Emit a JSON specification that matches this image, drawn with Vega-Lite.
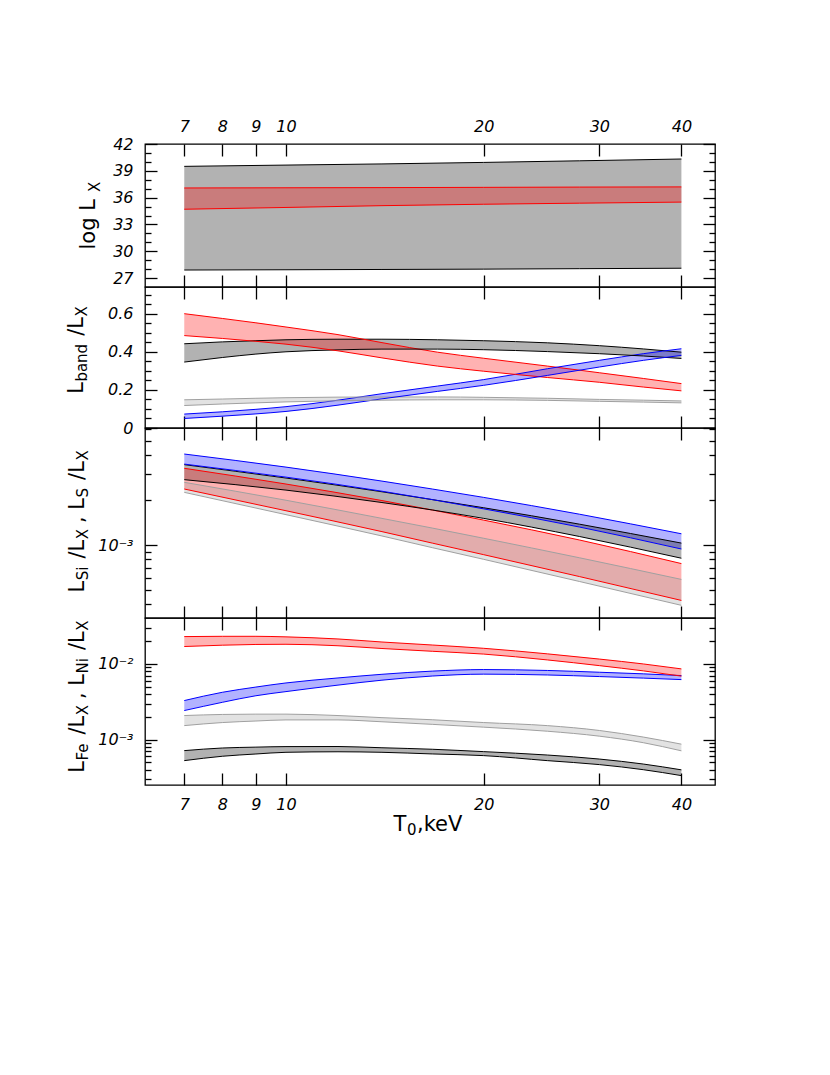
{
"$schema": "https://vega.github.io/schema/vega-lite/v6.json",
"background": "white",
"padding": 0,
"bounds": "flush",
"spacing": 0,
"config": {
 "view": {"stroke": "#000000", "strokeWidth": 1.3},
 "axis": {"domain": false, "grid": false, "tickColor": "#000000", "tickWidth": 1.3, "labelFont": "DejaVu Sans", "labelFontStyle": "italic", "labelFontSize": 16, "labelColor": "#000000", "labelFlush": false, "labelOverlap": false, "labelBound": false, "titleFont": "DejaVu Sans", "titleFontWeight": "normal", "titleColor": "#000000"},
 "axisY": {"titleAlign": "left", "titleBaseline": "alphabetic", "titleAngle": -90},
 "axisX": {"titleAlign": "left", "titleBaseline": "alphabetic", "titleAngle": 0}
},
"datasets": {"d": [
{"p":1,"s":"black","T":7,"lo":27.9,"hi":39.5},
{"p":1,"s":"black","T":10,"lo":27.93,"hi":39.64},
{"p":1,"s":"black","T":14,"lo":27.96,"hi":39.77},
{"p":1,"s":"black","T":20,"lo":28.0,"hi":39.94},
{"p":1,"s":"black","T":28,"lo":28.05,"hi":40.12},
{"p":1,"s":"black","T":40,"lo":28.1,"hi":40.32},
{"p":1,"s":"red","T":7,"lo":34.7,"hi":37.08},
{"p":1,"s":"red","T":10,"lo":34.9,"hi":37.1},
{"p":1,"s":"red","T":14,"lo":35.1,"hi":37.12},
{"p":1,"s":"red","T":20,"lo":35.26,"hi":37.15},
{"p":1,"s":"red","T":28,"lo":35.38,"hi":37.18},
{"p":1,"s":"red","T":40,"lo":35.5,"hi":37.2},
{"p":2,"s":"black","T":7,"lo":0.346,"hi":0.442},
{"p":2,"s":"black","T":8,"lo":0.37,"hi":0.452},
{"p":2,"s":"black","T":9,"lo":0.388,"hi":0.458},
{"p":2,"s":"black","T":10,"lo":0.4,"hi":0.463},
{"p":2,"s":"black","T":12,"lo":0.41,"hi":0.466},
{"p":2,"s":"black","T":14,"lo":0.414,"hi":0.466},
{"p":2,"s":"black","T":17,"lo":0.414,"hi":0.463},
{"p":2,"s":"black","T":20,"lo":0.411,"hi":0.458},
{"p":2,"s":"black","T":25,"lo":0.401,"hi":0.447},
{"p":2,"s":"black","T":30,"lo":0.39,"hi":0.432},
{"p":2,"s":"black","T":35,"lo":0.378,"hi":0.415},
{"p":2,"s":"black","T":40,"lo":0.365,"hi":0.398},
{"p":2,"s":"red","T":7,"lo":0.485,"hi":0.6},
{"p":2,"s":"red","T":8,"lo":0.47,"hi":0.575},
{"p":2,"s":"red","T":9,"lo":0.455,"hi":0.552},
{"p":2,"s":"red","T":10,"lo":0.44,"hi":0.53},
{"p":2,"s":"red","T":12,"lo":0.405,"hi":0.49},
{"p":2,"s":"red","T":14,"lo":0.368,"hi":0.448},
{"p":2,"s":"red","T":17,"lo":0.325,"hi":0.398},
{"p":2,"s":"red","T":20,"lo":0.298,"hi":0.366},
{"p":2,"s":"red","T":25,"lo":0.265,"hi":0.325},
{"p":2,"s":"red","T":30,"lo":0.24,"hi":0.29},
{"p":2,"s":"red","T":35,"lo":0.215,"hi":0.26},
{"p":2,"s":"red","T":40,"lo":0.195,"hi":0.233},
{"p":2,"s":"blue","T":7,"lo":0.05,"hi":0.073},
{"p":2,"s":"blue","T":8,"lo":0.062,"hi":0.085},
{"p":2,"s":"blue","T":9,"lo":0.074,"hi":0.098},
{"p":2,"s":"blue","T":10,"lo":0.087,"hi":0.112},
{"p":2,"s":"blue","T":12,"lo":0.12,"hi":0.146},
{"p":2,"s":"blue","T":14,"lo":0.153,"hi":0.18},
{"p":2,"s":"blue","T":17,"lo":0.192,"hi":0.22},
{"p":2,"s":"blue","T":20,"lo":0.224,"hi":0.254},
{"p":2,"s":"blue","T":25,"lo":0.276,"hi":0.311},
{"p":2,"s":"blue","T":30,"lo":0.32,"hi":0.355},
{"p":2,"s":"blue","T":35,"lo":0.355,"hi":0.39},
{"p":2,"s":"blue","T":40,"lo":0.381,"hi":0.416},
{"p":2,"s":"gray","T":7,"lo":0.118,"hi":0.148},
{"p":2,"s":"gray","T":8,"lo":0.126,"hi":0.152},
{"p":2,"s":"gray","T":9,"lo":0.132,"hi":0.156},
{"p":2,"s":"gray","T":10,"lo":0.137,"hi":0.159},
{"p":2,"s":"gray","T":12,"lo":0.143,"hi":0.162},
{"p":2,"s":"gray","T":14,"lo":0.146,"hi":0.163},
{"p":2,"s":"gray","T":17,"lo":0.148,"hi":0.163},
{"p":2,"s":"gray","T":20,"lo":0.148,"hi":0.161},
{"p":2,"s":"gray","T":25,"lo":0.145,"hi":0.156},
{"p":2,"s":"gray","T":30,"lo":0.14,"hi":0.15},
{"p":2,"s":"gray","T":35,"lo":0.136,"hi":0.146},
{"p":2,"s":"gray","T":40,"lo":0.132,"hi":0.142},
{"p":3,"s":"blue","T":7,"lo":0.0035,"hi":0.00409},
{"p":3,"s":"blue","T":10,"lo":0.00286,"hi":0.00334},
{"p":3,"s":"blue","T":14,"lo":0.0023,"hi":0.00269},
{"p":3,"s":"blue","T":16.7,"lo":0.00202,"hi":0.00238},
{"p":3,"s":"blue","T":20,"lo":0.00175,"hi":0.00209},
{"p":3,"s":"blue","T":28,"lo":0.00132,"hi":0.00161},
{"p":3,"s":"blue","T":40,"lo":0.00094,"hi":0.00119},
{"p":3,"s":"black","T":7,"lo":0.00275,"hi":0.00347},
{"p":3,"s":"black","T":10,"lo":0.00234,"hi":0.00282},
{"p":3,"s":"black","T":14,"lo":0.00193,"hi":0.00228},
{"p":3,"s":"black","T":16.7,"lo":0.00172,"hi":0.00202},
{"p":3,"s":"black","T":20,"lo":0.00151,"hi":0.00178},
{"p":3,"s":"black","T":28,"lo":0.00114,"hi":0.00138},
{"p":3,"s":"black","T":40,"lo":0.000815,"hi":0.00103},
{"p":3,"s":"red","T":7,"lo":0.00238,"hi":0.00328},
{"p":3,"s":"red","T":10,"lo":0.0017,"hi":0.00257},
{"p":3,"s":"red","T":14,"lo":0.00123,"hi":0.00199},
{"p":3,"s":"red","T":16.7,"lo":0.00103,"hi":0.00172},
{"p":3,"s":"red","T":20,"lo":0.000861,"hi":0.00147},
{"p":3,"s":"red","T":28,"lo":0.000613,"hi":0.00108},
{"p":3,"s":"red","T":40,"lo":0.000424,"hi":0.00075},
{"p":3,"s":"gray","T":7,"lo":0.00226,"hi":0.00264},
{"p":3,"s":"gray","T":10,"lo":0.0016,"hi":0.002},
{"p":3,"s":"gray","T":14,"lo":0.00115,"hi":0.00151},
{"p":3,"s":"gray","T":16.7,"lo":0.00096,"hi":0.0013},
{"p":3,"s":"gray","T":20,"lo":0.000801,"hi":0.00111},
{"p":3,"s":"gray","T":28,"lo":0.000568,"hi":0.00082},
{"p":3,"s":"gray","T":40,"lo":0.000393,"hi":0.000587},
{"p":4,"s":"red","T":7,"lo":0.017,"hi":0.023},
{"p":4,"s":"red","T":8,"lo":0.0177,"hi":0.0232},
{"p":4,"s":"red","T":9,"lo":0.0181,"hi":0.0232},
{"p":4,"s":"red","T":10,"lo":0.0182,"hi":0.0228},
{"p":4,"s":"red","T":12,"lo":0.0174,"hi":0.0214},
{"p":4,"s":"red","T":14,"lo":0.016,"hi":0.0195},
{"p":4,"s":"red","T":16.7,"lo":0.0147,"hi":0.0178},
{"p":4,"s":"red","T":20,"lo":0.0135,"hi":0.0161},
{"p":4,"s":"red","T":25,"lo":0.0113,"hi":0.0136},
{"p":4,"s":"red","T":30,"lo":0.0095,"hi":0.0116},
{"p":4,"s":"red","T":35,"lo":0.0081,"hi":0.01},
{"p":4,"s":"red","T":40,"lo":0.0069,"hi":0.0086},
{"p":4,"s":"blue","T":7,"lo":0.00242,"hi":0.00328},
{"p":4,"s":"blue","T":8,"lo":0.00311,"hi":0.00422},
{"p":4,"s":"blue","T":9,"lo":0.0038,"hi":0.00495},
{"p":4,"s":"blue","T":10,"lo":0.00431,"hi":0.00561},
{"p":4,"s":"blue","T":12,"lo":0.00525,"hi":0.00653},
{"p":4,"s":"blue","T":14,"lo":0.0061,"hi":0.0073},
{"p":4,"s":"blue","T":16.7,"lo":0.00692,"hi":0.00804},
{"p":4,"s":"blue","T":20,"lo":0.00733,"hi":0.00843},
{"p":4,"s":"blue","T":25,"lo":0.00715,"hi":0.0082},
{"p":4,"s":"blue","T":30,"lo":0.00681,"hi":0.00777},
{"p":4,"s":"blue","T":35,"lo":0.0065,"hi":0.0074},
{"p":4,"s":"blue","T":40,"lo":0.00621,"hi":0.00702},
{"p":4,"s":"gray","T":7,"lo":0.00153,"hi":0.00208},
{"p":4,"s":"gray","T":8,"lo":0.00168,"hi":0.00215},
{"p":4,"s":"gray","T":9,"lo":0.00176,"hi":0.00217},
{"p":4,"s":"gray","T":10,"lo":0.00182,"hi":0.00217},
{"p":4,"s":"gray","T":12,"lo":0.00182,"hi":0.00208},
{"p":4,"s":"gray","T":14,"lo":0.00172,"hi":0.00195},
{"p":4,"s":"gray","T":16.7,"lo":0.00159,"hi":0.00183},
{"p":4,"s":"gray","T":20,"lo":0.00146,"hi":0.00168},
{"p":4,"s":"gray","T":25,"lo":0.00129,"hi":0.00153},
{"p":4,"s":"gray","T":30,"lo":0.00111,"hi":0.00132},
{"p":4,"s":"gray","T":35,"lo":0.00091,"hi":0.00108},
{"p":4,"s":"gray","T":40,"lo":0.00071,"hi":0.00087},
{"p":4,"s":"black","T":7,"lo":0.000527,"hi":0.000715},
{"p":4,"s":"black","T":8,"lo":0.000602,"hi":0.000774},
{"p":4,"s":"black","T":9,"lo":0.000645,"hi":0.000795},
{"p":4,"s":"black","T":10,"lo":0.000679,"hi":0.000808},
{"p":4,"s":"black","T":12,"lo":0.00069,"hi":0.00081},
{"p":4,"s":"black","T":14,"lo":0.000679,"hi":0.00078},
{"p":4,"s":"black","T":16.7,"lo":0.000646,"hi":0.000745},
{"p":4,"s":"black","T":20,"lo":0.000614,"hi":0.000693},
{"p":4,"s":"black","T":25,"lo":0.000527,"hi":0.000625},
{"p":4,"s":"black","T":30,"lo":0.000467,"hi":0.000553},
{"p":4,"s":"black","T":35,"lo":0.0004,"hi":0.000475},
{"p":4,"s":"black","T":40,"lo":0.000334,"hi":0.000398}
]},
"vconcat": [
{
 "width": 570, "height": 143,
 "data": {"name": "d"},
 "transform": [{"filter": "datum.p == 1"}],
 "resolve": {"axis": {"x": "independent", "y": "independent"}},
 "layer": [
  {"mark": {"type": "area", "fillOpacity": 0.3, "interpolate": "monotone"},
   "encoding": {
    "x": {"field": "T", "type": "quantitative", "scale": {"type": "log", "domain": [6.1, 45], "nice": false}, "axis": {"orient": "bottom", "values": [7,8,9,10,20,30,40], "tickSize": -12, "labels": false, "title": null}},
    "y": {"field": "lo", "type": "quantitative", "scale": {"type": "linear", "domain": [26, 42], "nice": false, "zero": false}, "axis": {"orient": "left", "values": [27,30,33,36,39,42], "tickSize": -12, "labelPadding": 24, "title": "log  L", "titleFontSize": 21, "titleAngle": -90, "titleX": -51, "titleY": 105}},
    "y2": {"field": "hi"},
    "color": {"field": "s", "type": "nominal", "scale": {"domain": ["black","red","blue","gray"], "range": ["#000000","#ff0000","#0000ff","#a0a0a0"]}, "legend": null}}},
  {"mark": {"type": "line", "strokeWidth": 1, "interpolate": "monotone"},
   "encoding": {
    "x": {"field": "T", "type": "quantitative", "scale": {"type": "log", "domain": [6.1, 45], "nice": false}, "axis": {"orient": "top", "values": [7,8,9,10,20,30,40], "tickSize": -12, "labelPadding": 22, "title": null}},
    "y": {"field": "hi", "type": "quantitative", "scale": {"type": "linear", "domain": [26, 42], "nice": false, "zero": false}, "axis": {"orient": "left", "values": [28,29,31,32,34,35,37,38,40,41], "tickSize": -6, "labels": false, "title": "X", "titleFontSize": 15, "titleAngle": -90, "titleX": -46, "titleY": 47.4}},
    "color": {"field": "s", "type": "nominal", "scale": {"domain": ["black","red","blue","gray"], "range": ["#000000","#ff0000","#0000ff","#a0a0a0"]}, "legend": null}}},
  {"mark": {"type": "line", "strokeWidth": 1, "interpolate": "monotone"},
   "encoding": {
    "x": {"field": "T", "type": "quantitative", "scale": {"type": "log", "domain": [6.1, 45], "nice": false}, "axis": {"orient": "top", "offset": 143, "domain": true, "domainOpacity": 0, "ticks": false, "labels": false, "minExtent": 0, "title": null}},
    "y": {"field": "lo", "type": "quantitative", "scale": {"type": "linear", "domain": [26, 42], "nice": false, "zero": false}, "axis": {"orient": "right", "values": [27,30,33,36,39,42], "tickSize": -12, "labels": false, "title": null}},
    "color": {"field": "s", "type": "nominal", "scale": {"domain": ["black","red","blue","gray"], "range": ["#000000","#ff0000","#0000ff","#a0a0a0"]}, "legend": null}}},
  {"mark": {"type": "point", "opacity": 0},
   "encoding": {
    "y": {"field": "hi", "type": "quantitative", "scale": {"type": "linear", "domain": [26, 42], "nice": false, "zero": false}, "axis": {"orient": "right", "values": [28,29,31,32,34,35,37,38,40,41], "tickSize": -6, "labels": false, "title": null}}}},
  {"mark": {"type": "point", "opacity": 0},
   "encoding": {
    "y": {"field": "hi", "type": "quantitative", "scale": {"type": "linear", "domain": [26, 42], "nice": false, "zero": false}, "axis": {"orient": "left", "offset": 144, "domain": true, "domainOpacity": 0, "ticks": false, "labels": false, "minExtent": 0, "title": null}}}}
 ]
},
{
 "width": 570, "height": 141,
 "data": {"name": "d"},
 "transform": [{"filter": "datum.p == 2"}],
 "resolve": {"axis": {"x": "independent", "y": "independent"}},
 "layer": [
  {"mark": {"type": "area", "fillOpacity": 0.3, "interpolate": "monotone"},
   "encoding": {
    "x": {"field": "T", "type": "quantitative", "scale": {"type": "log", "domain": [6.1, 45], "nice": false}, "axis": {"orient": "bottom", "values": [7,8,9,10,20,30,40], "tickSize": -12, "labels": false, "title": null}},
    "y": {"field": "lo", "type": "quantitative", "scale": {"type": "linear", "domain": [0, 0.74], "nice": false, "zero": false}, "axis": {"orient": "left", "values": [0,0.2,0.4,0.6], "labelExpr": "datum.value == 0 ? '0' : format(datum.value, '.1f')", "tickSize": -12, "labelPadding": 24, "title": "L", "titleFontSize": 21, "titleAngle": -90, "titleX": -63, "titleY": 106.3}},
    "y2": {"field": "hi"},
    "color": {"field": "s", "type": "nominal", "scale": {"domain": ["black","red","blue","gray"], "range": ["#000000","#ff0000","#0000ff","#a0a0a0"]}, "legend": null}}},
  {"mark": {"type": "line", "strokeWidth": 1, "interpolate": "monotone"},
   "encoding": {
    "x": {"field": "T", "type": "quantitative", "scale": {"type": "log", "domain": [6.1, 45], "nice": false}, "axis": {"orient": "top", "values": [7,8,9,10,20,30,40], "tickSize": -12, "labels": false, "title": null}},
    "y": {"field": "hi", "type": "quantitative", "scale": {"type": "linear", "domain": [0, 0.74], "nice": false, "zero": false}, "axis": {"orient": "left", "values": [0.05,0.1,0.15,0.25,0.3,0.35,0.45,0.5,0.55,0.65,0.7], "tickSize": -6, "labels": false, "title": "band", "titleFontSize": 15, "titleAngle": -90, "titleX": -59, "titleY": 94.1}},
    "color": {"field": "s", "type": "nominal", "scale": {"domain": ["black","red","blue","gray"], "range": ["#000000","#ff0000","#0000ff","#a0a0a0"]}, "legend": null}}},
  {"mark": {"type": "line", "strokeWidth": 1, "interpolate": "monotone"},
   "encoding": {
    "x": {"field": "T", "type": "quantitative", "scale": {"type": "log", "domain": [6.1, 45], "nice": false}, "axis": null},
    "y": {"field": "lo", "type": "quantitative", "scale": {"type": "linear", "domain": [0, 0.74], "nice": false, "zero": false}, "axis": {"orient": "right", "values": [0,0.2,0.4,0.6], "tickSize": -12, "labels": false, "title": "/L", "titleFontSize": 21, "titleAngle": -90, "titleX": -633, "titleY": 48.3}},
    "color": {"field": "s", "type": "nominal", "scale": {"domain": ["black","red","blue","gray"], "range": ["#000000","#ff0000","#0000ff","#a0a0a0"]}, "legend": null}}},
  {"mark": {"type": "point", "opacity": 0},
   "encoding": {
    "y": {"field": "hi", "type": "quantitative", "scale": {"type": "linear", "domain": [0, 0.74], "nice": false, "zero": false}, "axis": {"orient": "right", "values": [0.05,0.1,0.15,0.25,0.3,0.35,0.45,0.5,0.55,0.65,0.7], "tickSize": -6, "labels": false, "title": "X", "titleFontSize": 15, "titleAngle": -90, "titleX": -629, "titleY": 29.0}}}}
 ]
},
{
 "width": 570, "height": 190,
 "data": {"name": "d"},
 "transform": [{"filter": "datum.p == 3"}],
 "resolve": {"axis": {"x": "independent", "y": "independent"}},
 "layer": [
  {"mark": {"type": "area", "fillOpacity": 0.3, "interpolate": "monotone"},
   "encoding": {
    "x": {"field": "T", "type": "quantitative", "scale": {"type": "log", "domain": [6.1, 45], "nice": false}, "axis": {"orient": "bottom", "values": [7,8,9,10,20,30,40], "tickSize": -12, "labels": false, "title": null}},
    "y": {"field": "lo", "type": "quantitative", "scale": {"type": "log", "domain": [0.000323, 0.00612], "nice": false}, "axis": {"orient": "left", "values": [0.001], "labelExpr": "'10⁻³'", "tickSize": -12, "labelPadding": 24, "title": "L", "titleFontSize": 21, "titleAngle": -90, "titleX": -62, "titleY": 164}},
    "y2": {"field": "hi"},
    "color": {"field": "s", "type": "nominal", "scale": {"domain": ["black","red","blue","gray"], "range": ["#000000","#ff0000","#0000ff","#a0a0a0"]}, "legend": null}}},
  {"mark": {"type": "line", "strokeWidth": 1, "interpolate": "monotone"},
   "encoding": {
    "x": {"field": "T", "type": "quantitative", "scale": {"type": "log", "domain": [6.1, 45], "nice": false}, "axis": {"orient": "top", "values": [7,8,9,10,20,30,40], "tickSize": -12, "labels": false, "title": null}},
    "y": {"field": "hi", "type": "quantitative", "scale": {"type": "log", "domain": [0.000323, 0.00612], "nice": false}, "axis": {"orient": "left", "values": [0.0004,0.0005,0.0006,0.0007,0.0008,0.0009,0.002,0.003,0.004,0.005,0.006], "tickSize": -6, "labels": false, "title": "Si", "titleFontSize": 15, "titleAngle": -90, "titleX": -58, "titleY": 151.8}},
    "color": {"field": "s", "type": "nominal", "scale": {"domain": ["black","red","blue","gray"], "range": ["#000000","#ff0000","#0000ff","#a0a0a0"]}, "legend": null}}},
  {"mark": {"type": "line", "strokeWidth": 1, "interpolate": "monotone"},
   "encoding": {
    "x": {"field": "T", "type": "quantitative", "scale": {"type": "log", "domain": [6.1, 45], "nice": false}, "axis": null},
    "y": {"field": "lo", "type": "quantitative", "scale": {"type": "log", "domain": [0.000323, 0.00612], "nice": false}, "axis": {"orient": "right", "values": [0.001], "tickSize": -12, "labels": false, "title": "/L", "titleFontSize": 21, "titleAngle": -90, "titleX": -632, "titleY": 130.1}},
    "color": {"field": "s", "type": "nominal", "scale": {"domain": ["black","red","blue","gray"], "range": ["#000000","#ff0000","#0000ff","#a0a0a0"]}, "legend": null}}},
  {"mark": {"type": "point", "opacity": 0},
   "encoding": {
    "y": {"field": "hi", "type": "quantitative", "scale": {"type": "log", "domain": [0.000323, 0.00612], "nice": false}, "axis": {"orient": "right", "values": [0.0004,0.0005,0.0006,0.0007,0.0008,0.0009,0.002,0.003,0.004,0.005,0.006], "tickSize": -6, "labels": false, "title": "X", "titleFontSize": 15, "titleAngle": -90, "titleX": -628, "titleY": 110.8}}}},
  {"mark": {"type": "point", "opacity": 0},
   "encoding": {
    "y": {"field": "hi", "type": "quantitative", "scale": {"type": "log", "domain": [0.000323, 0.00612], "nice": false}, "axis": {"orient": "left", "ticks": false, "labels": false, "domain": false, "title": ", L", "titleFontSize": 21, "titleAngle": -90, "titleX": -62, "titleY": 94.5}}}},
  {"mark": {"type": "point", "opacity": 0},
   "encoding": {
    "y": {"field": "hi", "type": "quantitative", "scale": {"type": "log", "domain": [0.000323, 0.00612], "nice": false}, "axis": {"orient": "left", "ticks": false, "labels": false, "domain": false, "title": "S", "titleFontSize": 15, "titleAngle": -90, "titleX": -58, "titleY": 68.9}}}},
  {"mark": {"type": "point", "opacity": 0},
   "encoding": {
    "y": {"field": "hi", "type": "quantitative", "scale": {"type": "log", "domain": [0.000323, 0.00612], "nice": false}, "axis": {"orient": "left", "ticks": false, "labels": false, "domain": false, "title": "/L", "titleFontSize": 21, "titleAngle": -90, "titleX": -62, "titleY": 51.4}}}},
  {"mark": {"type": "point", "opacity": 0},
   "encoding": {
    "y": {"field": "hi", "type": "quantitative", "scale": {"type": "log", "domain": [0.000323, 0.00612], "nice": false}, "axis": {"orient": "left", "ticks": false, "labels": false, "domain": false, "title": "X", "titleFontSize": 15, "titleAngle": -90, "titleX": -58, "titleY": 32.1}}}}
 ]
},
{
 "width": 570, "height": 167,
 "data": {"name": "d"},
 "transform": [{"filter": "datum.p == 4"}],
 "resolve": {"axis": {"x": "independent", "y": "independent"}},
 "layer": [
  {"mark": {"type": "area", "fillOpacity": 0.3, "interpolate": "monotone"},
   "encoding": {
    "x": {"field": "T", "type": "quantitative", "scale": {"type": "log", "domain": [6.1, 45], "nice": false}, "axis": {"orient": "bottom", "values": [7,8,9,10,20,30,40], "tickSize": -12, "labelPadding": 23, "title": "T", "titleFontSize": 21, "titleAngle": 0, "titleX": 248, "titleY": 45}},
    "y": {"field": "lo", "type": "quantitative", "scale": {"type": "log", "domain": [0.000251, 0.0405], "nice": false}, "axis": {"orient": "left", "values": [0.001, 0.01], "labelExpr": "datum.value < 0.005 ? '10⁻³' : '10⁻²'", "tickSize": -12, "labelPadding": 24, "title": "L", "titleFontSize": 21, "titleAngle": -90, "titleX": -62, "titleY": 154.2}},
    "y2": {"field": "hi"},
    "color": {"field": "s", "type": "nominal", "scale": {"domain": ["black","red","blue","gray"], "range": ["#000000","#ff0000","#0000ff","#a0a0a0"]}, "legend": null}}},
  {"mark": {"type": "line", "strokeWidth": 1, "interpolate": "monotone"},
   "encoding": {
    "x": {"field": "T", "type": "quantitative", "scale": {"type": "log", "domain": [6.1, 45], "nice": false}, "axis": {"orient": "top", "values": [7,8,9,10,20,30,40], "tickSize": -12, "labels": false, "title": null}},
    "y": {"field": "hi", "type": "quantitative", "scale": {"type": "log", "domain": [0.000251, 0.0405], "nice": false}, "axis": {"orient": "left", "values": [0.0003,0.0004,0.0005,0.0006,0.0007,0.0008,0.0009,0.002,0.003,0.004,0.005,0.006,0.007,0.008,0.009,0.02,0.03], "tickSize": -6, "labels": false, "title": "Fe", "titleFontSize": 15, "titleAngle": -90, "titleX": -58, "titleY": 142.0}},
    "color": {"field": "s", "type": "nominal", "scale": {"domain": ["black","red","blue","gray"], "range": ["#000000","#ff0000","#0000ff","#a0a0a0"]}, "legend": null}}},
  {"mark": {"type": "line", "strokeWidth": 1, "interpolate": "monotone"},
   "encoding": {
    "x": {"field": "T", "type": "quantitative", "scale": {"type": "log", "domain": [6.1, 45], "nice": false}, "axis": {"orient": "bottom", "ticks": false, "labels": false, "domain": false, "title": "0", "titleFontSize": 15, "titleAngle": 0, "titleX": 261.5, "titleY": 49}},
    "y": {"field": "lo", "type": "quantitative", "scale": {"type": "log", "domain": [0.000251, 0.0405], "nice": false}, "axis": {"orient": "right", "values": [0.001, 0.01], "tickSize": -12, "labels": false, "title": "/L", "titleFontSize": 21, "titleAngle": -90, "titleX": -632, "titleY": 116.1}},
    "color": {"field": "s", "type": "nominal", "scale": {"domain": ["black","red","blue","gray"], "range": ["#000000","#ff0000","#0000ff","#a0a0a0"]}, "legend": null}}},
  {"mark": {"type": "point", "opacity": 0},
   "encoding": {
    "x": {"field": "T", "type": "quantitative", "scale": {"type": "log", "domain": [6.1, 45], "nice": false}, "axis": {"orient": "bottom", "ticks": false, "labels": false, "domain": false, "title": ",keV", "titleFontSize": 21, "titleAngle": 0, "titleX": 271.5, "titleY": 45}},
    "y": {"field": "hi", "type": "quantitative", "scale": {"type": "log", "domain": [0.000251, 0.0405], "nice": false}, "axis": {"orient": "right", "values": [0.0003,0.0004,0.0005,0.0006,0.0007,0.0008,0.0009,0.002,0.003,0.004,0.005,0.006,0.007,0.008,0.009,0.02,0.03], "tickSize": -6, "labels": false, "title": "X", "titleFontSize": 15, "titleAngle": -90, "titleX": -628, "titleY": 96.8}}}},
  {"mark": {"type": "point", "opacity": 0},
   "encoding": {
    "y": {"field": "hi", "type": "quantitative", "scale": {"type": "log", "domain": [0.000251, 0.0405], "nice": false}, "axis": {"orient": "left", "ticks": false, "labels": false, "domain": false, "title": ", L", "titleFontSize": 21, "titleAngle": -90, "titleX": -62, "titleY": 80.5}}}},
  {"mark": {"type": "point", "opacity": 0},
   "encoding": {
    "y": {"field": "hi", "type": "quantitative", "scale": {"type": "log", "domain": [0.000251, 0.0405], "nice": false}, "axis": {"orient": "left", "ticks": false, "labels": false, "domain": false, "title": "Ni", "titleFontSize": 15, "titleAngle": -90, "titleX": -58, "titleY": 54.9}}}},
  {"mark": {"type": "point", "opacity": 0},
   "encoding": {
    "y": {"field": "hi", "type": "quantitative", "scale": {"type": "log", "domain": [0.000251, 0.0405], "nice": false}, "axis": {"orient": "left", "ticks": false, "labels": false, "domain": false, "title": "/L", "titleFontSize": 21, "titleAngle": -90, "titleX": -62, "titleY": 31.5}}}},
  {"mark": {"type": "point", "opacity": 0},
   "encoding": {
    "y": {"field": "hi", "type": "quantitative", "scale": {"type": "log", "domain": [0.000251, 0.0405], "nice": false}, "axis": {"orient": "left", "ticks": false, "labels": false, "domain": false, "title": "X", "titleFontSize": 15, "titleAngle": -90, "titleX": -58, "titleY": 12.2}}}}
 ]
}
]
}
